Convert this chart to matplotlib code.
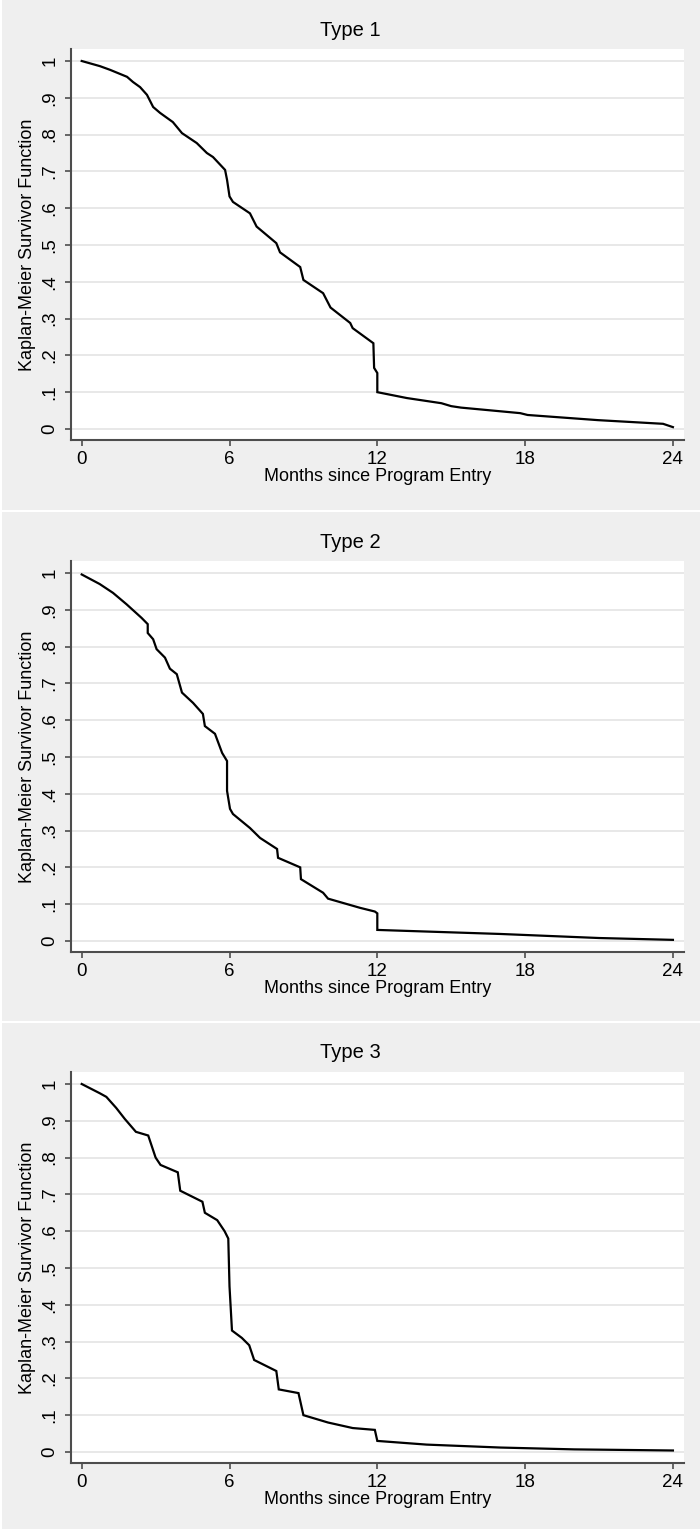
import matplotlib.pyplot as plt
from matplotlib.patches import Rectangle

# =========================
# DATA
# =========================
TITLES = ["Type 1", "Type 2", "Type 3"]

T1 = [0, 0.74, 1.15, 1.84, 2.08, 2.37, 2.65, 2.9, 3.18, 3.7, 4.07, 4.67, 5.08,
      5.33, 5.82, 5.9, 6.0, 6.14, 6.83, 7.1, 7.9, 8.05, 8.87, 9.0, 9.8, 10.1,
      10.9, 11.0, 11.84, 11.87, 12.0, 12.0, 13.2, 14.6, 15.0, 15.4, 17.8,
      18.1, 20.95, 23.6, 24.0]
S1 = [1.0, 0.986, 0.976, 0.957, 0.943, 0.929, 0.908, 0.875, 0.859, 0.834,
      0.804, 0.777, 0.75, 0.739, 0.704, 0.677, 0.632, 0.617, 0.586, 0.55,
      0.505, 0.48, 0.44, 0.405, 0.369, 0.33, 0.288, 0.274, 0.233, 0.166,
      0.152, 0.10, 0.084, 0.07, 0.062, 0.058, 0.043, 0.038, 0.024, 0.014,
      0.005]

T2 = [0, 0.73, 1.27, 1.82, 2.43, 2.68, 2.68, 2.9, 3.04, 3.38, 3.58, 3.86, 4.07,
      4.52, 4.92, 5.0, 5.41, 5.7, 5.9, 5.9, 6.02, 6.14, 6.83, 7.24, 7.93, 7.97,
      8.87, 8.9, 9.8, 10.0, 11.3, 11.9, 12.0, 12.0, 12.9, 17.0, 21.0, 24.0]
S2 = [0.996, 0.97, 0.946, 0.915, 0.878, 0.861, 0.837, 0.82, 0.793, 0.77, 0.74,
      0.725, 0.675, 0.647, 0.617, 0.584, 0.563, 0.511, 0.489, 0.408, 0.359,
      0.345, 0.307, 0.28, 0.25, 0.226, 0.2, 0.168, 0.131, 0.115, 0.09, 0.08,
      0.075, 0.03, 0.028, 0.019, 0.008, 0.003]

T3 = [0, 0.73, 1.0, 1.4, 1.75, 2.2, 2.7, 3.0, 3.2, 3.9, 4.0, 4.9, 5.0, 5.5,
      5.8, 5.95, 6.0, 6.1, 6.5, 6.8, 7.0, 7.9, 8.0, 8.8, 9.0, 10.0, 11.0,
      11.9, 12.0, 14.0, 17.0, 20.0, 24.0]
S3 = [1.0, 0.975, 0.965, 0.935, 0.905, 0.87, 0.86, 0.8, 0.78, 0.76, 0.71,
      0.68, 0.65, 0.63, 0.6, 0.58, 0.45, 0.33, 0.31, 0.29, 0.25, 0.22, 0.17,
      0.16, 0.1, 0.08, 0.065, 0.06, 0.03, 0.02, 0.012, 0.007, 0.004]

SERIES = [(T1, S1), (T2, S2), (T3, S3)]

X_TICKS = [0, 6, 12, 18, 24]
Y_TICKS = [0, 0.1, 0.2, 0.3, 0.4, 0.5, 0.6, 0.7, 0.8, 0.9, 1.0]
Y_LABELS = ["0", ".1", ".2", ".3", ".4", ".5", ".6", ".7", ".8", ".9", "1"]

# =========================
# STYLE
# =========================
W, H = 700, 1529
BG = "#efefef"
GRID = "#e8e8e8"
SPINE = "#4d4d4d"
NARROW = ["Liberation Sans Narrow", "Liberation Sans", "DejaVu Sans"]
REGULAR = ["Liberation Sans", "DejaVu Sans"]

PANEL_TOPS = [0, 512, 1023]
PANEL_BOTTOMS = [510, 1021, 1529]

fig = plt.figure(figsize=(W / 100, H / 100), dpi=100)
fig.patch.set_facecolor("white")

for k, (title, (t, s)) in enumerate(zip(TITLES, SERIES)):
    top = PANEL_TOPS[k]
    bot = PANEL_BOTTOMS[k]

    # gray panel background
    fig.patches.append(Rectangle((2 / W, 1 - bot / H), (W - 2) / W, (bot - top) / H,
                                 transform=fig.transFigure, facecolor=BG,
                                 edgecolor="none", zorder=-10))

    ax_left, ax_right = 70.5, 684
    ax_top, ax_bot = top + 49, top + 440
    ax = fig.add_axes([ax_left / W, 1 - ax_bot / H,
                       (ax_right - ax_left) / W, (ax_bot - ax_top) / H])
    ax.set_facecolor("white")

    ax.plot(t, s, color="black", linewidth=1.6, solid_joinstyle="miter")

    ax.set_xlim(-0.455, 24.45)
    ax.set_ylim(-0.03, 1.0326)

    ax.set_xticks(X_TICKS)
    ax.set_xticklabels([str(v) for v in X_TICKS], family=NARROW, fontsize=13.5)
    ax.set_yticks(Y_TICKS)
    ax.set_yticklabels(Y_LABELS, family=NARROW, fontsize=13.5, rotation=90,
                       va="center")

    ax.grid(axis="y", color=GRID, linewidth=1.4)
    ax.set_axisbelow(True)

    for side in ["top", "right"]:
        ax.spines[side].set_visible(False)
    for side in ["left", "bottom"]:
        ax.spines[side].set_color(SPINE)
        ax.spines[side].set_linewidth(1.5)

    ax.tick_params(axis="x", direction="out", length=4.5, width=1.2,
                   color=SPINE, pad=3.5)
    ax.tick_params(axis="y", direction="out", length=4.5, width=1.2,
                   color=SPINE, pad=4)

    ax.set_xlabel("Months since Program Entry", family=REGULAR, fontsize=13,
                  labelpad=0)
    ax.set_ylabel("Kaplan-Meier Survivor Function", family=REGULAR,
                  fontsize=13, labelpad=4)

    fig.text(0.5, 1 - (top + 30) / H, title, ha="center", va="center",
             family=REGULAR, fontsize=14.5)

plt.savefig("out.png", dpi=100, facecolor=fig.get_facecolor())
